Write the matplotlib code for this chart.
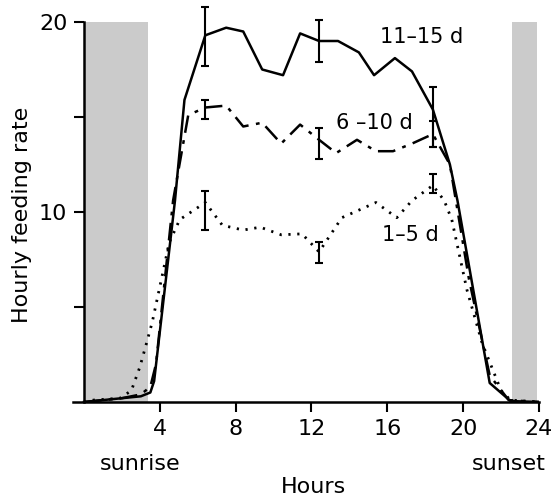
import matplotlib
matplotlib.use("Agg")
import matplotlib.pyplot as plt
import matplotlib.transforms as mtransforms

# ---- data ----
x_11_15 = [0, 1, 2, 3, 3.5, 3.7, 4.8, 5.3, 6.4, 7.5, 8.4, 9.4, 10.5, 11.4, 12.4, 13.4,
           14.5, 15.3, 16.4, 17.3, 18.4, 19.3, 19.7, 21.4, 22.5, 24]
y_11_15 = [0, 0.1, 0.2, 0.3, 0.5, 1.1, 10.6, 15.9, 19.3, 19.7, 19.5, 17.5, 17.2, 19.4, 19.0, 19.0,
           18.4, 17.2, 18.1, 17.4, 15.4, 12.5, 10.6, 1.0, 0.05, 0]

x_6_10 = [0, 1, 2, 3, 3.5, 3.8, 4.7, 5.5, 6.4, 7.5, 8.4, 9.4, 10.4, 11.4, 12.4, 13.3,
          14.4, 15.4, 16.3, 17.3, 18.4, 19.3, 20.3, 21.4, 22.4, 24]
y_6_10 = [0, 0.1, 0.2, 0.4, 0.8, 2.0, 10.6, 15.1, 15.5, 15.6, 14.5, 14.7, 13.6, 14.6, 13.8, 13.1,
          13.8, 13.2, 13.2, 13.6, 14.1, 12.5, 6.5, 1.4, 0.1, 0]

x_1_5 = [0, 0.5, 1.9, 2.5, 2.95, 3.3, 3.6, 4.5, 5.05, 6.4, 7.3, 8.4, 9.3, 10.4, 11.5, 12.4,
         13.6, 14.5, 15.4, 16.5, 17.3, 18.4, 19.0, 19.4, 20.2, 21.0, 22.0, 22.5, 24]
y_1_5 = [0, 0.1, 0.2, 0.6, 1.85, 3.1, 4.2, 8.4, 9.6, 10.5, 9.3, 9.05, 9.2, 8.8, 8.85, 7.9,
         9.7, 10.1, 10.5, 9.7, 10.6, 11.4, 10.6, 9.6, 5.9, 3.1, 0.6, 0.1, 0]

err_x = [6.4, 12.4, 18.4]
err_11_15 = [19.3, 19.0, 15.4]
err_11_15_lo = [17.7, 17.9, 13.4]
err_11_15_hi = [20.8, 20.1, 16.6]
err_6_10 = [15.5, 13.8, 14.1]
err_6_10_lo = [14.9, 12.8, 13.4]
err_6_10_hi = [15.9, 14.4, 14.8]
err_1_5 = [10.5, 7.9, 11.4]
err_1_5_lo = [9.05, 7.3, 11.0]
err_1_5_hi = [11.1, 8.4, 12.0]

night_spans = [(0, 3.37), (22.6, 23.9)]
xticks = [4, 8, 12, 16, 20, 24]
yticks = [5, 10, 15, 20]
ytick_labels = ["", "10", "", "20"]
series_labels = ["11\u201315 d", "6 \u201310 d", "1\u20135 d"]

# ---- figure ----
plt.rcParams['font.family'] = ['DejaVu Sans']
fig = plt.figure(figsize=(5.53, 4.99), dpi=100)
ax = fig.add_axes([72.6 / 553, 97 / 499, (539 - 72.6) / 553, (402 - 22) / 499])
ax.set_xlim(-0.6, 24)
ax.set_ylim(0, 20)

for a, b in night_spans:
    ax.fill_between([a, b], 0, 20, color='#cbcbcb', lw=0, zorder=1)

ax.plot(x_11_15, y_11_15, color='black', lw=1.8, ls='-', zorder=3)
ax.plot(x_6_10, y_6_10, color='black', lw=1.8, dashes=(7, 3, 1.5, 3), zorder=3)
ax.plot(x_1_5, y_1_5, color='black', lw=2.0, dashes=(0.8, 2.4), zorder=3)

def eb(yc, lo, hi):
    yerr = [[c - l for c, l in zip(yc, lo)], [h - c for c, h in zip(yc, hi)]]
    ax.errorbar(err_x, yc, yerr=yerr, fmt='none', ecolor='black', elinewidth=1.5,
                capsize=3, capthick=1.5, zorder=4, clip_on=False)

eb(err_11_15, err_11_15_lo, err_11_15_hi)
eb(err_6_10, err_6_10_lo, err_6_10_hi)
eb(err_1_5, err_1_5_lo, err_1_5_hi)

fs = 15
fl = 16
ax.text(15.6, 19.2, series_labels[0], fontsize=fs, va='center', ha='left')
ax.text(13.3, 14.7, series_labels[1], fontsize=fs, va='center', ha='left')
ax.text(15.7, 8.8, series_labels[2], fontsize=fs, va='center', ha='left')

for s in ['top', 'right']:
    ax.spines[s].set_visible(False)
ax.spines['left'].set_position(('data', 0))
ax.spines['left'].set_linewidth(1.8)
ax.spines['bottom'].set_linewidth(1.8)

ax.set_xticks(xticks)
ax.set_xticklabels([str(t) for t in xticks])
ax.set_yticks(yticks)
ax.set_yticklabels(ytick_labels)
ax.tick_params(axis='both', direction='out', length=7, width=1.5, labelsize=fl, pad=5)

ax.set_ylabel("Hourly feeding rate", fontsize=fl)
ax.yaxis.set_label_coords(-0.088, 0.492)

trans = mtransforms.blended_transform_factory(ax.transData, fig.transFigure)
ax.text(2.95, 1 - 464 / 499, "sunrise", fontsize=fl, ha='center', va='center', transform=trans)
ax.text(22.4, 1 - 464 / 499, "sunset", fontsize=fl, ha='center', va='center', transform=trans)
ax.text(12.1, 1 - 487 / 499, "Hours", fontsize=fl, ha='center', va='center', transform=trans)

fig.savefig("out.png", dpi=100)
